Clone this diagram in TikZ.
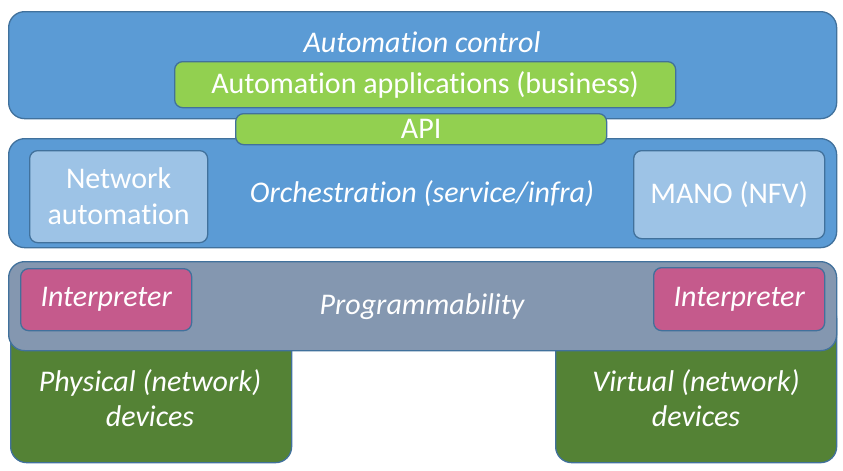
\documentclass[tikz,border=0pt]{standalone}
\usepackage{fontspec}
\setmainfont{Carlito}[Ligatures={NoCommon}]
\definecolor{topblue}{HTML}{5B9BD5}
\definecolor{edgeblue}{HTML}{41719C}
\definecolor{appgreen}{HTML}{92D050}
\definecolor{lightblue}{HTML}{9DC3E6}
\definecolor{proggray}{HTML}{8497B0}
\definecolor{interp}{HTML}{C55A8C}
\definecolor{devgreen}{HTML}{548235}
\begin{document}
\begin{tikzpicture}[x=1pt,y=-1pt,
  box/.style={draw=edgeblue, line width=1.3pt, anchor=north west, inner sep=0pt, text=white, align=center},
  big/.style={box, rounded corners=16pt},
  small/.style={box, rounded corners=8pt},
  fnt/.style={font=\fontsize{30}{36}\selectfont},
  ifnt/.style={font=\fontsize{30}{35}\selectfont\itshape},
  lbl/.style={text=white, align=center, inner sep=0pt},
  ilbl/.style={lbl, ifnt}]
\useasboundingbox (0,0) rectangle (843,471);
% device boxes
\node[big, fill=devgreen, minimum width=281pt, minimum height=160pt] (phys) at (10,302) {};
\node[big, fill=devgreen, minimum width=281pt, minimum height=160pt] (virt) at (555,302) {};
% top layer
\node[big, fill=topblue, minimum width=828pt, minimum height=107pt] (top) at (8,11) {};
\node[ilbl] (autoctl) at (422,42) {Automation control};
\node[small, fill=appgreen, minimum width=501pt, minimum height=46pt, fnt] (apps) at (174,61) {Automation applications (business)};
% orchestration layer
\node[big, fill=topblue, minimum width=828pt, minimum height=109pt] (orch) at (8,138) {};
\node[small, fill=appgreen, minimum width=371pt, minimum height=31pt, fnt] (api) at (235,113) {API};
\node[small, fill=lightblue, minimum width=178pt, minimum height=92pt, fnt] (netauto) at (29,150) {Network\\automation};
\node[small, fill=lightblue, minimum width=191pt, minimum height=88pt, fnt] (mano) at (633,150) {MANO (NFV)};
\node[ilbl] (orchlbl) at (422,194) {Orchestration (service/infra)};
% programmability layer
\node[big, fill=proggray, minimum width=828pt, minimum height=89pt] (prog) at (8,261) {};
\node[small, fill=interp, minimum width=171pt, minimum height=62pt, ifnt] (int1) at (20,268) {Interpreter};
\node[small, fill=interp, minimum width=171pt, minimum height=63pt, ifnt] (int2) at (653,267) {Interpreter};
\node[ilbl] (proglbl) at (422,307) {Programmability};
% device labels
\node[ilbl] (physlbl) at (150,398) {Physical (network)\\devices};
\node[ilbl] (virtlbl) at (696,398) {Virtual (network)\\devices};
\end{tikzpicture}
\end{document}
